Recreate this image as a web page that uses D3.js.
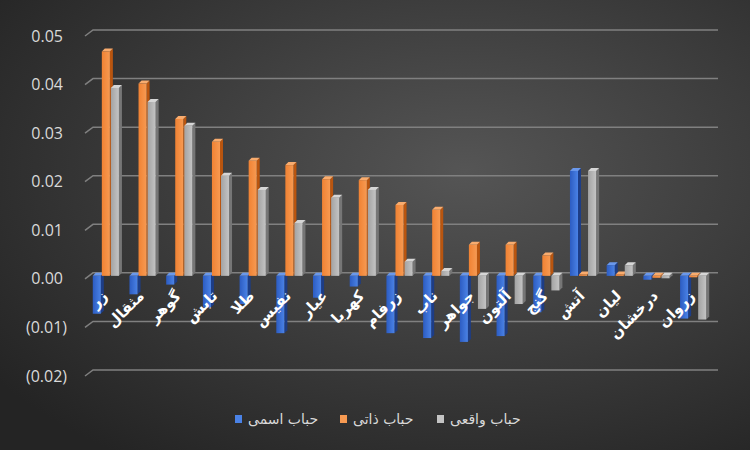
<!DOCTYPE html>
<html>
<head>
<meta charset="utf-8">
<script src="https://cdn.jsdelivr.net/npm/d3@7"></script>
<style>
  html, body { margin: 0; padding: 0; background: #2b2b2b; }
  svg { display: block; }
</style>
</head>
<body>
<svg id="chart" width="750" height="450"></svg>
<script>
// categories (gold funds), left to right
const categories = ['زر', 'مثقال', 'گوهر', 'تابش', 'طلا', 'نفیس', 'عیار', 'کهربا', 'زرفام',
  'ناب', 'جواهر', 'آلتون', 'گنج', 'آتش', 'لیان', 'درخشان', 'زروان'];

const seriesNames = ['حباب اسمی', 'حباب ذاتی', 'حباب واقعی'];

const nominal = [-0.0078, -0.0038, -0.0018, -0.0065, -0.0058, -0.0118, -0.0045, -0.0022, -0.0118,
  -0.0128, -0.0136, -0.0124, -0.0075, 0.0216, 0.0022, -0.0008, -0.0088];
const intrinsic = [0.0462, 0.0396, 0.0323, 0.0276, 0.0237, 0.0228, 0.0199, 0.0197, 0.0146,
  0.0136, 0.0064, 0.0064, 0.0042, 0.0003, 0.0003, -0.0004, -0.0003];
const real = [0.0387, 0.0358, 0.0309, 0.0206, 0.0177, 0.0109, 0.0161, 0.0177, 0.0029,
  0.0010, -0.0068, -0.0058, -0.0030, 0.0216, 0.0022, -0.0005, -0.0090];

const yTicks = [0.05, 0.04, 0.03, 0.02, 0.01, 0, -0.01, -0.02];

(function () {
  'use strict';

  const svg = d3.select('#chart');
  const defs = svg.append('defs');

  // background
  const bg = defs.append('radialGradient').attr('id', 'bg')
    .attr('cx', '62%').attr('cy', '38%').attr('r', '78%');
  bg.append('stop').attr('offset', '0%').attr('stop-color', '#555555');
  bg.append('stop').attr('offset', '100%').attr('stop-color', '#242424');
  svg.append('rect').attr('width', 750).attr('height', 450).attr('fill', 'url(#bg)');

  const palette = [
    { front: ['#2c5cc2', '#4a82e6'], side: '#1d3d86', top: '#6a98ec' },
    { front: ['#f08233', '#f79a52'], side: '#b9550f', top: '#f9ac6e' },
    { front: ['#a3a3a3', '#c4c4c4'], side: '#767676', top: '#d6d6d6' }
  ];
  palette.forEach((p, i) => {
    const g = defs.append('linearGradient').attr('id', 'front' + i)
      .attr('x1', '0%').attr('x2', '100%').attr('y1', '0%').attr('y2', '0%');
    g.append('stop').attr('offset', '0%').attr('stop-color', p.front[0]);
    g.append('stop').attr('offset', '100%').attr('stop-color', p.front[1]);
  });

  const y = d3.scaleLinear().domain([-0.02, 0.05]).range([370, 30]);
  const x = d3.scaleBand().domain(categories).range([88, 712]).paddingInner(0.26).paddingOuter(0.13);
  const xs = d3.scaleBand().domain([0, 1, 2]).range([0, x.bandwidth()]);

  // gridlines with the short 3D floor edge at the left
  const grid = svg.append('g');
  yTicks.forEach(t => {
    const gy = y(t);
    grid.append('path')
      .attr('d', `M85,${gy + 6}L93,${gy}L718,${gy}`)
      .attr('fill', 'none')
      .attr('stroke', '#808080')
      .attr('stroke-width', 1.5);
  });

  const fmt = v => {
    const s = Math.abs(v).toFixed(2);
    return v < 0 ? `(${s})` : s;
  };
  svg.append('g').selectAll('text')
    .data(yTicks)
    .join('text')
    .attr('x', d => d < 0 ? 67 : 63)
    .attr('y', d => y(d) + 6)
    .attr('dy', '0.35em')
    .attr('text-anchor', 'end')
    .attr('fill', '#d9d9d9')
    .attr('font-size', '16px')
    .attr('font-family', 'Open Sans, DejaVu Sans, sans-serif')
    .text(fmt);

  // bars
  const data = [nominal, intrinsic, real];
  const dx = 3, dy = 3;
  const bars = svg.append('g');
  categories.forEach((c, ci) => {
    data.forEach((vals, si) => {
      const v = vals[ci];
      const p = palette[si];
      const x0 = x(c) + xs(si);
      const w = xs.bandwidth() - 1;
      const yTop = Math.min(y(v), y(0)) + dy;
      const yBot = Math.max(y(v), y(0)) + dy;
      const h = Math.max(yBot - yTop, 1);
      const g = bars.append('g');
      // side
      g.append('path')
        .attr('d', `M${x0 + w},${yTop}L${x0 + w + dx},${yTop - dy}L${x0 + w + dx},${yTop - dy + h}L${x0 + w},${yTop + h}Z`)
        .attr('fill', p.side);
      // top
      g.append('path')
        .attr('d', `M${x0},${yTop}L${x0 + dx},${yTop - dy}L${x0 + w + dx},${yTop - dy}L${x0 + w},${yTop}Z`)
        .attr('fill', p.top);
      // front
      g.append('rect')
        .attr('x', x0).attr('y', yTop)
        .attr('width', w).attr('height', h)
        .attr('fill', `url(#front${si})`);
    });
  });

  // category labels, rotated
  svg.append('g').selectAll('text')
    .data(categories)
    .join('text')
    .attr('transform', d => `translate(${x(d) + x.bandwidth() / 2 + 2},${y(0) + 24}) rotate(-45)`)
    .attr('text-anchor', 'end')
    .attr('fill', '#ffffff')
    .attr('font-size', '15px')
    .attr('font-weight', 'bold')
    .attr('font-family', 'DejaVu Sans, sans-serif')
    .text(d => d);

  // legend
  const legend = svg.append('g');
  const legendX = [235, 340, 437];
  seriesNames.forEach((name, i) => {
    legend.append('rect')
      .attr('x', legendX[i]).attr('y', 415)
      .attr('width', 7).attr('height', 8)
      .attr('fill', palette[i].front[1]);
    legend.append('text')
      .attr('x', legendX[i] + 13).attr('y', 419)
      .attr('dy', '0.35em')
      .attr('fill', '#d9d9d9')
      .attr('font-size', '14px')
      .attr('font-family', 'DejaVu Sans, sans-serif')
      .text(name);
  });
})();
</script>
</body>
</html>
